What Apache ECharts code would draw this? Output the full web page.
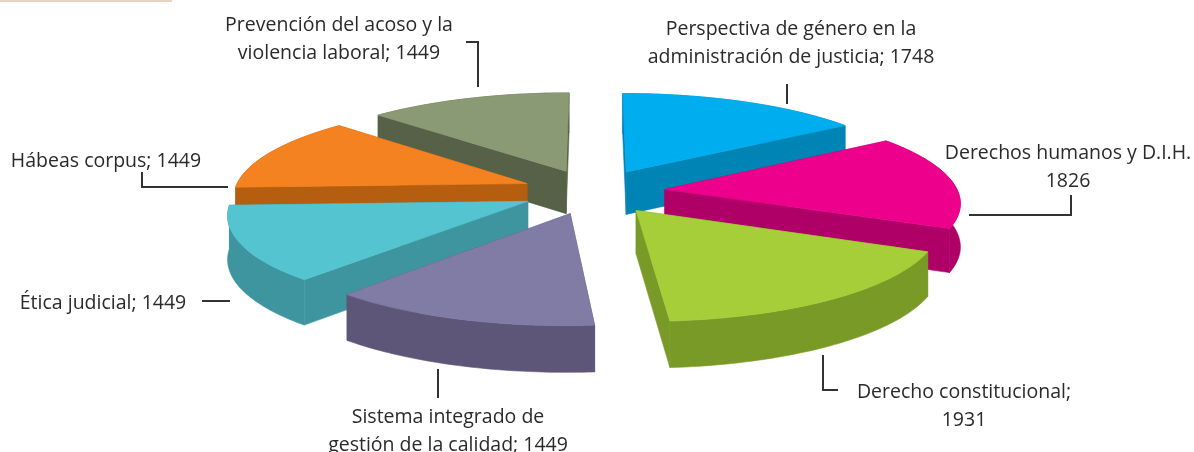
<!DOCTYPE html>
<html><head><meta charset="utf-8">
<style>html,body{margin:0;padding:0;background:#fff}#c{width:1194px;height:452px}</style>
<script src="https://cdn.jsdelivr.net/npm/echarts@6/dist/echarts.min.js"></script>
</head><body><div id="c"></div>
<script>
const categories = ["Perspectiva de género en la\nadministración de justicia","Derechos humanos y D.I.H.","Derecho constitucional","Sistema integrado de\ngestión de la calidad","Ética judicial","Hábeas corpus","Prevención del acoso y la\nviolencia laboral"];
const values = [1748,1826,1931,1449,1449,1449,1449];
const separators = ["; ","\n",";\n","; ","; ","; ","; "];
const topColors = ["#00ADEF","#EC008C","#A6CE39","#807CA5","#54C4D0","#F58220","#8A9A74"];
const sideColors = ["#0083B5","#AE0066","#7A9A28","#5D5678","#3E95A0","#B55E10","#566148"];
const drawOrder = [6,5,4,3,0,1,2];
const labelCenters = [[791,28],[1068,152],[964,391],[448,416],[103,302],[106,160],[339,24]];
const leaders = [[[787,84],[787,104]],[[969,215],[1071,215],[1071,195]],[[823,355],[823,390],[838,390]],[[438,369],[438,398]],[[202,301],[230,301]],[[142,172],[142,187],[228,187]],[[466,42],[478,42],[478,87]]];
const view = {cx:593.5,cy:191.5,rx:293,ry:92.5,k:0.122,explode:0.245,depth:43};

const total = values.reduce((a,b)=>a+b,0);
const starts = values.map((_,i)=>values.slice(0,i).reduce((a,b)=>a+b,0)/total*Math.PI*2);

function project(u,v,h){
  const s = 1/(1+view.k*v);
  return [view.cx+view.rx*u*s, view.cy-view.ry*v*s+h*Math.sqrt(s)];
}
function renderItem(params,api){
  const idx = api.value(1);
  const a0 = starts[idx], a1 = a0+api.value(0)/total*Math.PI*2, mid=(a0+a1)/2;
  const ou = view.explode*Math.sin(mid), ov = view.explode*Math.cos(mid);
  const n = 48, arc=[];
  for(let j=0;j<=n;j++){const t=a0+(a1-a0)*j/n;arc.push([ou+Math.sin(t),ov+Math.cos(t)]);}
  const poly=(pts,c)=>({type:'polygon',shape:{points:pts},style:{fill:c,stroke:c,lineWidth:0.6},silent:true});
  const top=arc.map(p=>project(p[0],p[1],0));
  const bot=arc.map(p=>project(p[0],p[1],view.depth));
  const apexT=project(ou,ov,0), apexB=project(ou,ov,view.depth);
  const side=sideColors[idx];
  return {type:'group',children:[
    poly([apexT,top[0],bot[0],apexB],side),
    poly([apexT,top[n],bot[n],apexB],side),
    poly(top.concat(bot.slice().reverse()),side),
    poly([apexT].concat(top),topColors[idx])
  ]};
}
const labelFont = '19.5px "Open Sans", "Noto Sans", sans-serif';
const graphics = [{type:'rect',shape:{x:0,y:0,width:172,height:2},style:{fill:'#E8D3C3'},silent:true}];
categories.forEach((name,i)=>{
  graphics.push({type:'text',x:labelCenters[i][0],y:labelCenters[i][1]-13,z:10,silent:true,
    style:{text:name+separators[i]+values[i],font:labelFont,fill:'#2A2A2A',align:'center',verticalAlign:'top',lineHeight:28}});
  graphics.push({type:'polyline',z:10,silent:true,shape:{points:leaders[i]},style:{stroke:'#333',lineWidth:2,fill:null}});
});
const chart = echarts.init(document.getElementById('c'),null,{renderer:'canvas'});
chart.setOption({
  animation:false,
  backgroundColor:'#fff',
  graphic:graphics,
  series:[{type:'custom',coordinateSystem:'none',renderItem,
    encode:{tooltip:0},
    data:drawOrder.map(i=>({name:categories[i],value:[values[i],i]}))}]
});
</script></body></html>
